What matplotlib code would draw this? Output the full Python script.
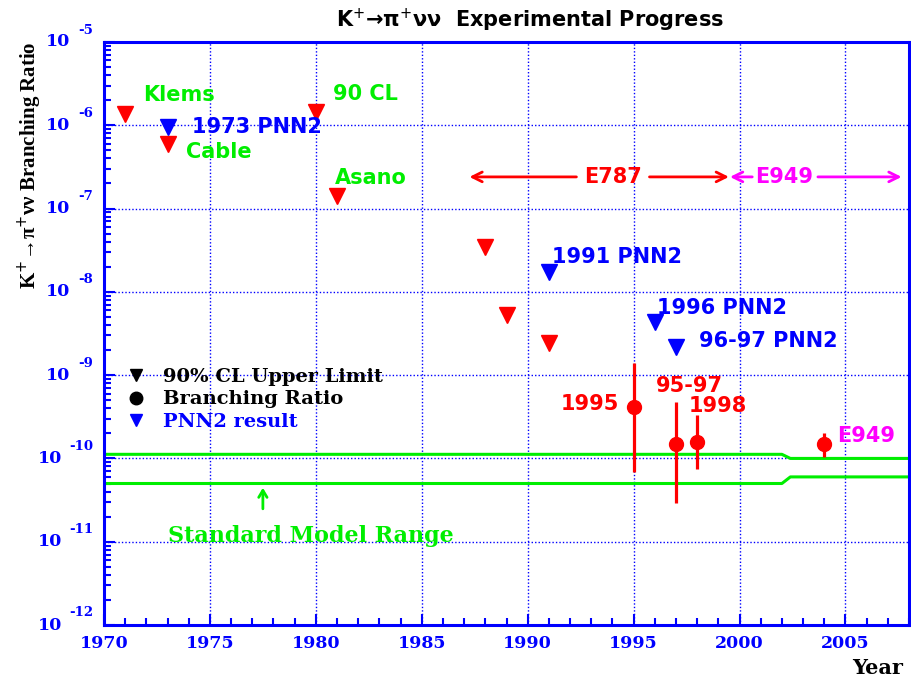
import matplotlib

matplotlib.use("Agg")

import matplotlib.pyplot as plt
from matplotlib.lines import Line2D
from matplotlib.ticker import FixedLocator, NullFormatter

# upper limits (90% CL), red triangles
ul_years = [1971, 1973, 1980, 1981, 1988, 1989, 1991]
ul_values = [1.35e-6, 6.0e-7, 1.45e-6, 1.4e-7, 3.5e-8, 5.3e-9, 2.45e-9]

# PNN2 upper limits, blue triangles
pnn2_years = [1973, 1991, 1996, 1997]
pnn2_values = [9.5e-7, 1.75e-8, 4.4e-9, 2.2e-9]

# measured branching ratios with asymmetric errors
br_years = [1995, 1997, 1998, 2004]
br_values = [4.2e-10, 1.5e-10, 1.57e-10, 1.5e-10]
br_upper = [1.38e-9, 4.7e-10, 3.3e-10, 2.0e-10]
br_lower = [6.9e-11, 2.9e-11, 7.5e-11, 1.04e-10]

# standard model band edges
sm_years = [1970, 2002, 2002.4, 2008]
sm_upper = [1.12e-10, 1.12e-10, 1.0e-10, 1.0e-10]
sm_lower = [5.0e-11, 5.0e-11, 6.0e-11, 6.0e-11]

decades = [-12, -11, -10, -9, -8, -7, -6, -5]
year_ticks = [1970, 1975, 1980, 1985, 1990, 1995, 2000, 2005]

RED = "#ff0000"
BLUE = "#0000ff"
GREEN = "#00ee00"
MAGENTA = "#ff00ff"
SANS = "DejaVu Sans"
SERIF = "DejaVu Serif"
TIMES = "Liberation Serif"

labels = [
    ("Klems", 1971.85, 2.3e-6, GREEN),
    ("1973 PNN2", 1974.15, 9.5e-7, BLUE),
    ("Cable", 1973.86, 4.8e-7, GREEN),
    ("90 CL", 1980.8, 2.4e-6, GREEN),
    ("Asano", 1980.9, 2.3e-7, GREEN),
    ("1991 PNN2", 1991.15, 2.6e-8, BLUE),
    ("1996 PNN2", 1996.1, 6.4e-9, BLUE),
    ("96-97 PNN2", 1998.1, 2.6e-9, BLUE),
    ("1995", 1991.55, 4.5e-10, RED),
    ("95-97", 1996.06, 7.4e-10, RED),
    ("1998", 1997.6, 4.3e-10, RED),
    ("E949", 2004.6, 1.85e-10, MAGENTA),
]

fig = plt.figure(figsize=(9.11, 6.77), dpi=100)
ax = fig.add_axes([104 / 911, 52 / 677, 805 / 911, 583 / 677])
ax.set_yscale("log")
ax.set_xlim(1970, 2008)
ax.set_ylim(1e-12, 1e-5)

for side in ("left", "bottom", "right", "top"):
    ax.spines[side].set_color(BLUE)
    ax.spines[side].set_linewidth(2.2)

ax.xaxis.set_major_locator(FixedLocator(year_ticks))
ax.xaxis.set_minor_locator(FixedLocator(range(1970, 2009)))
ax.yaxis.set_major_locator(FixedLocator([10.0 ** d for d in decades]))
ax.yaxis.set_minor_locator(FixedLocator(
    [m * 10.0 ** d for d in decades[:-1] for m in range(2, 10)]))
ax.yaxis.set_major_formatter(NullFormatter())
ax.yaxis.set_minor_formatter(NullFormatter())
ax.tick_params(which="both", direction="in", color=BLUE, width=1.5,
               top=False, right=False)
ax.tick_params(which="major", length=8)
ax.tick_params(which="minor", length=5)
ax.tick_params(axis="x", which="major", pad=7, labelcolor=BLUE, labelsize=12.5)
for lab in ax.get_xticklabels():
    lab.set_fontfamily(SERIF)
    lab.set_fontweight("bold")

ax.grid(which="major", color=BLUE, linestyle=(0, (1, 1.5)), linewidth=1.0)
ax.set_axisbelow(True)

# y tick labels drawn as "10" with a detached exponent
for d in decades:
    two_digit = d <= -10
    ax.annotate("10", xy=(0, 10.0 ** d), xycoords=("axes fraction", "data"),
                xytext=(-42 if two_digit else -34, 0), textcoords="offset pixels",
                ha="right", va="center", color=BLUE, fontsize=12.5,
                fontfamily=SERIF, fontweight="bold", annotation_clip=False)
    ax.annotate(str(d), xy=(0, 10.0 ** d), xycoords=("axes fraction", "data"),
                xytext=(-11, 12), textcoords="offset pixels",
                ha="right", va="center", color=BLUE, fontsize=9.5,
                fontfamily=SERIF, fontweight="bold", annotation_clip=False)

# standard model range
ax.plot(sm_years, sm_upper, color=GREEN, lw=2.2)
ax.plot(sm_years, sm_lower, color=GREEN, lw=2.2)
ax.annotate("", xy=(1977.5, 4.8e-11), xytext=(1977.5, 2.3e-11),
            arrowprops=dict(arrowstyle="->,head_width=0.3,head_length=0.5",
                            color=GREEN, lw=2))
ax.text(1973.0, 1.17e-11, "Standard Model Range", color=GREEN, fontsize=16,
        fontfamily=SERIF, fontweight="bold", ha="left", va="center")

# markers
ax.plot(ul_years, ul_values, "v", color=RED, ms=11, ls="none")
ax.plot(pnn2_years, pnn2_values, "v", color=BLUE, ms=11, ls="none")
ax.errorbar(br_years, br_values,
            yerr=[[v - lo for v, lo in zip(br_values, br_lower)],
                  [hi - v for v, hi in zip(br_values, br_upper)]],
            fmt="o", color=RED, ms=10, elinewidth=2.3, capsize=0)

# experiment periods
arrow_y = 2.4e-7
head = "->,head_width=0.35,head_length=0.7"
ax.annotate("", xy=(1987.25, arrow_y), xytext=(1992.3, arrow_y),
            arrowprops=dict(arrowstyle=head, color=RED, lw=2, shrinkA=0, shrinkB=0))
ax.annotate("", xy=(1999.5, arrow_y), xytext=(1995.75, arrow_y),
            arrowprops=dict(arrowstyle=head, color=RED, lw=2, shrinkA=0, shrinkB=0))
ax.text(1994.05, arrow_y, "E787", color=RED, fontsize=15, fontfamily=SANS,
        fontweight="bold", ha="center", va="center")
ax.annotate("", xy=(1999.55, arrow_y), xytext=(2000.6, arrow_y),
            arrowprops=dict(arrowstyle=head, color=MAGENTA, lw=2, shrinkA=0, shrinkB=0))
ax.annotate("", xy=(2007.65, arrow_y), xytext=(2003.7, arrow_y),
            arrowprops=dict(arrowstyle=head, color=MAGENTA, lw=2, shrinkA=0, shrinkB=0))
ax.text(2002.1, arrow_y, "E949", color=MAGENTA, fontsize=15, fontfamily=SANS,
        fontweight="bold", ha="center", va="center")

for text, x, y, c in labels:
    ax.text(x, y, text, color=c, fontsize=15, fontfamily=SANS,
            fontweight="bold", ha="left", va="center")

handles = [
    Line2D([], [], marker="v", color="black", ls="none", ms=9),
    Line2D([], [], marker="o", color="black", ls="none", ms=9),
    Line2D([], [], marker="v", color=BLUE, ls="none", ms=9),
]
leg = ax.legend(handles, ["90% CL Upper Limit", "Branching Ratio", "PNN2 result"],
                loc="upper left", bbox_to_anchor=(0.018, 0.455), frameon=False,
                prop={"family": SERIF, "weight": "bold", "size": 14},
                handlelength=1.0, handletextpad=0.9, labelspacing=0.25,
                borderaxespad=0)
leg.get_texts()[2].set_color(BLUE)

fig.text(530 / 911, 1 - 20 / 677, "K$^{+}$→π$^{+}$νν  Experimental Progress",
         ha="center", va="center", fontsize=15, fontfamily=SANS, fontweight="bold")
fig.text(30 / 911, 1 - 165 / 677, "K$^{+}$→π$^{+}$νν Branching Ratio",
         rotation=90, ha="center", va="center", fontsize=15,
         fontfamily=[TIMES, "DejaVu Serif"], fontweight="bold")
fig.text(878 / 911, 1 - 668 / 677, "Year", ha="center", va="center",
         fontsize=15, fontfamily=SERIF, fontweight="bold")

fig.savefig("out.png", dpi=100)
